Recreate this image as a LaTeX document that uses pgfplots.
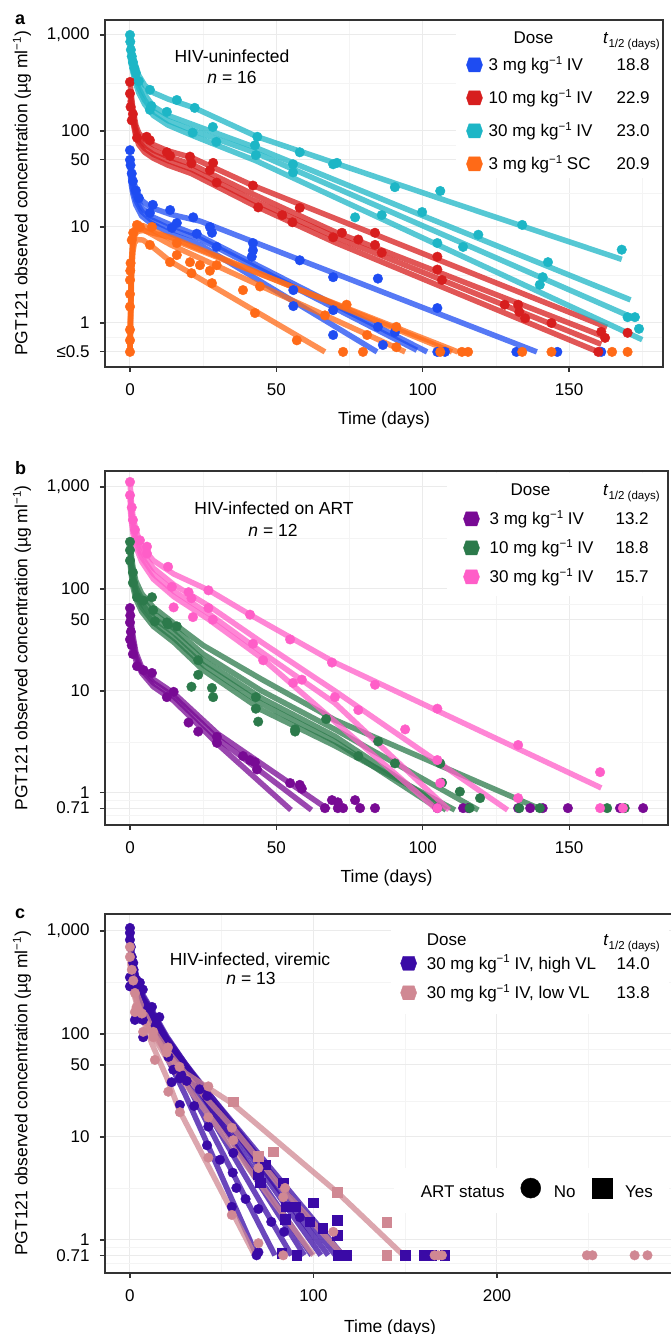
\documentclass[border=0pt]{standalone}
\usepackage{fontspec}
\setmainfont{Liberation Sans}
\usepackage{pgfplots}
\pgfplotsset{compat=1.18}

\definecolor{aBlue}{HTML}{1E4CF2}
\definecolor{aRed}{HTML}{D71E1E}
\definecolor{aCyan}{HTML}{1DB6C6}
\definecolor{aOrange}{HTML}{FF6A17}
\definecolor{bPurple}{HTML}{780A94}
\definecolor{bGreen}{HTML}{2C7A4B}
\definecolor{bPink}{HTML}{FF5EC8}
\definecolor{cHigh}{HTML}{3A0AA6}
\definecolor{cLow}{HTML}{D08893}
\definecolor{axgray}{HTML}{333333}
\definecolor{gridmaj}{HTML}{EBEBEB}
\definecolor{gridmin}{HTML}{F4F4F4}

\newcommand{\fs}{\fontsize{17}{20}\selectfont}
\newcommand{\fl}{\fontsize{17.5}{20}\selectfont}
\newcommand{\sinv}{\raisebox{6.5pt}{\fontsize{11.5}{12}\selectfont −1}}
\newcommand{\thalf}{\textit{t}\raisebox{-4pt}{\fontsize{11.5}{12}\selectfont 1/2 (days)}}
\newcommand{\ylab}{PGT121 observed concentration (µg ml\sinv)}

\newcommand{\subj}[2]{\addplot[forget plot, no markers, draw=#1, line width=5.5pt, opacity=0.75, line join=round] coordinates {#2};}
\newcommand{\obs}[2]{\addplot[forget plot, only marks, mark=*, mark size=4.8pt, color=#1, mark options={draw=none, fill=#1}] coordinates {#2};}
\newcommand{\obsq}[2]{\addplot[forget plot, only marks, mark=square*, mark size=4.8pt, color=#1, mark options={draw=none, fill=#1}] coordinates {#2};}
\newcommand{\hexleg}[1]{\addlegendimage{legend image code/.code={\fill[#1] (0pt,1.5pt) -- (2.5pt,8.5pt) -- (13.5pt,8.5pt) -- (16pt,1.5pt) -- (13.5pt,-5.5pt) -- (2.5pt,-5.5pt) -- cycle;}}}

\begin{document}
\begin{tikzpicture}
\path[use as bounding box] (0pt,0pt) rectangle (670pt,1334pt);

% ---------------- panel a ----------------
\begin{axis}[
  scale only axis, ymode=log,
  axis line style={draw=axgray, line width=1.1pt},
  tick align=outside, major tick length=5pt, minor tick length=0pt,
  xtick pos=left, ytick pos=left,
  tick style={draw=axgray, line width=1.1pt},
  grid=both,
  major grid style={draw=gridmaj, line width=1pt},
  minor grid style={draw=gridmin, line width=0.7pt},
  xticklabel style={font=\fs, yshift=-8pt}, yticklabel style={font=\fs, xshift=-7pt},
  xlabel={Time (days)}, ylabel={\ylab},
  xlabel style={font=\fl, at={(axis description cs:0.5,-0.152)}, anchor=center},
  ylabel style={font=\fl, at={(axis description cs:-0.1487,0.5)}, anchor=center},
  at={(105pt,1314pt)}, anchor=north west, width=558pt, height=347pt,
  xmin=-8.54, xmax=182.1, ymin=0.348, ymax=1432,
  xtick={0,50,100,150}, xticklabels={0,50,100,150}, minor xtick={25,75,125,175},
  ytick={0.5,1,10,50,100,1000}, yticklabels={≤0.5,1,10,50,100,{1,000}},
  minor ytick={0.7071,3.1623,22.36,70.71,316.2},
  legend cell align=left,
  legend style={draw=none, fill=white, font=\fs, anchor=north east,
     at={(axis description cs:0.998,0.998)}, inner xsep=10.5pt, inner ysep=2.5pt, row sep=13pt,
     nodes={inner sep=1.5pt, text height=13pt, text depth=4pt},
     /tikz/every odd column/.style={column sep=4.5pt}},
]
% blue 3 mg/kg IV
\subj{aBlue}{(0,55)(0.5,40)(1,32)(2,25)(4,19)(7,16)(14,13.5)(24,11.5)(139,0.5)}
\subj{aBlue}{(0,48)(0.5,34)(1,27)(2,21)(4,16)(7,13)(14,10.5)(24,8)(101.5,0.5)}
\subj{aBlue}{(0,42)(0.5,30)(1,24)(2,19)(4,14.5)(7,12)(14,9.5)(24,7.5)(98,0.52)}
\subj{aBlue}{(0,38)(0.5,27)(1,22)(2,17)(4,13)(7,11)(14,8.5)(24,6.5)(84.4,0.5)}
% red 10 mg/kg IV
\subj{aRed}{(0,320)(0.5,230)(1,170)(2,115)(3,95)(5,82)(8,72)(13,62)(21,53)(42,27)(70,12.3)(163,0.9)}
\subj{aRed}{(0,270)(0.5,200)(1,150)(2,105)(3,85)(5,72)(8,63)(13,54)(21,45)(42,22)(70,8.9)(162,0.72)}
\subj{aRed}{(0,240)(0.5,175)(1,135)(2,95)(3,78)(5,66)(8,57)(13,49)(21,40)(42,19)(70,7.9)(161,0.6)}
\subj{aRed}{(0,210)(0.5,160)(1,125)(2,88)(3,72)(5,60)(8,52)(13,44)(21,36)(42,17)(70,6.9)(160,0.5)}
% cyan 30 mg/kg IV
\subj{aCyan}{(0,1000)(0.3,800)(1,620)(2,470)(3,380)(5,300)(8,250)(13,215)(22,174)(43.5,87)(107.6,19)(168,4.6)}
\subj{aCyan}{(0,850)(0.3,700)(1,540)(2,400)(3,320)(5,240)(8,180)(13,145)(22,115)(43,67)(100,13.1)(171,1.74)}
\subj{aCyan}{(0,720)(0.3,600)(1,470)(2,350)(3,280)(5,210)(8,160)(13,128)(22,100)(43,59)(100,10.3)(170,1.2)}
\subj{aCyan}{(0,620)(0.3,520)(1,410)(2,310)(3,250)(5,190)(8,145)(13,115)(22,88)(43,49)(100,7.7)(175,0.67)}
% orange 3 mg/kg SC
\subj{aOrange}{(0,0.5)(0.3,1.5)(0.6,3.5)(1,5.5)(1.5,6.8)(2.5,7.4)(4.5,7.3)(8,6.1)(13.7,4.4)(66.6,0.5)}
\subj{aOrange}{(0,0.5)(0.3,2)(0.6,4.5)(1,7)(1.5,8.6)(2.5,9.5)(4.5,9.4)(8,8.2)(14,6.5)(94,0.5)}
\subj{aOrange}{(0,0.5)(0.3,2.2)(0.6,5)(1,7.8)(1.5,9.5)(2.5,10.5)(4.5,10.3)(8,9.2)(14,7.5)(112,0.5)}
\subj{aOrange}{(0,0.5)(0.3,1.8)(0.6,4.2)(1,6.5)(1.5,8)(2.5,9)(4.5,9.2)(8,8.6)(14,7.8)(110,0.5)}
% observations
\obs{aBlue}{(0,63)(0,50)(0.2,44)(0.6,36)(1,30)(2,24)(3,20)(6.8,14)(7.8,17)(13.7,15)(14.3,9.8)(16,11)(21.6,12.6)(22.8,8.5)(27.3,10)(28,8.7)(29.6,6.2)(42,6.8)(42,5.7)(41.6,4.9)(58,4.5)(55.8,2.2)(55.8,1.5)(69.4,3.0)(69.4,1.36)(69.4,0.75)(84.7,2.9)(84.7,0.91)(90.5,0.8)(86.4,0.59)(105,1.43)(105,0.5)(107.6,0.5)(132,0.5)(146,0.5)(161,0.5)}
\obs{aRed}{(0,324)(0,245)(0.2,178)(0.6,129)(1,150)(2.4,85)(5.7,87)(6.8,80)(12.6,60)(13.7,55)(20.5,54)(21,46)(28.4,46.5)(27.3,39)(29.6,29)(42,27)(43.8,16)(52,13.3)(55.5,11.2)(58,15.8)(69.4,7.8)(72.4,8.7)(78,7.4)(83.7,8.7)(83.7,6.5)(86,5.4)(105,4.9)(105,3.6)(106.6,2.8)(128,1.55)(132.6,1.55)(133,1.3)(135,1.12)(144,1.0)(161,0.81)(162.3,0.7)(170,0.79)(160,0.5)}
\obs{aCyan}{(0,1000)(0.1,850)(0.3,700)(0.6,600)(1,520)(1.5,450)(2,400)(3,330)(6.8,268)(6.8,166)(7.3,182)(12.6,158)(16,210)(22.1,174)(21.4,96)(28.3,110)(29.5,77)(43.5,87)(42.7,71)(43,56)(58,60)(55.7,45)(55.7,37)(69.4,45)(70.7,46.5)(76.9,12.6)(86,13.3)(90.5,26)(99.8,14.3)(106,23.7)(105,6.8)(113.8,6.2)(119,8.3)(134,10.5)(142.8,4.3)(141,3.0)(140,2.5)(168,5.8)(170,1.15)(172.5,1.15)(173.9,0.87)}
\obs{aOrange}{(0,0.5)(0,0.66)(0,0.85)(0,1.48)(0,2)(0,2.8)(0.1,3.5)(0.2,4.2)(0.6,7.3)(1.1,8.7)(2.4,10.5)(3.4,10)(7.5,10)(6.8,6.5)(13.7,4.3)(16,5.1)(16,6.8)(20.5,4.3)(21,3.3)(23.9,4)(27.3,3.5)(29.6,4)(28,2.6)(38.6,2.2)(44.4,2.4)(42.7,1.27)(57,0.66)(66.6,1.2)(74,1.55)(81,0.75)(91,0.91)(91,0.56)(72.8,0.5)(79.6,0.5)(106,0.5)(113.4,0.5)(115.5,0.5)(134,0.5)(144,0.5)(164.7,0.5)(170,0.5)}
% legend
\addlegendimage{empty legend}\addlegendentry{\raisebox{-6pt}{\makebox[161pt][l]{\hspace{25pt}Dose\hfill\thalf\kern-10pt}}}
\hexleg{aBlue}\addlegendentry{\makebox[161pt][l]{3 mg kg\sinv{} IV\hfill 18.8}}
\hexleg{aRed}\addlegendentry{\makebox[161pt][l]{10 mg kg\sinv{} IV\hfill 22.9}}
\hexleg{aCyan}\addlegendentry{\makebox[161pt][l]{30 mg kg\sinv{} IV\hfill 23.0}}
\hexleg{aOrange}\addlegendentry{\makebox[161pt][l]{3 mg kg\sinv{} SC\hfill 20.9}}
\end{axis}

% ---------------- panel b ----------------
\begin{axis}[
  scale only axis, ymode=log,
  axis line style={draw=axgray, line width=1.1pt},
  tick align=outside, major tick length=5pt, minor tick length=0pt,
  xtick pos=left, ytick pos=left,
  tick style={draw=axgray, line width=1.1pt},
  grid=both,
  major grid style={draw=gridmaj, line width=1pt},
  minor grid style={draw=gridmin, line width=0.7pt},
  xticklabel style={font=\fs, yshift=-8pt}, yticklabel style={font=\fs, xshift=-7pt},
  xlabel={Time (days)}, ylabel={\ylab},
  xlabel style={font=\fl, at={(axis description cs:0.5,-0.151)}, anchor=center},
  ylabel style={font=\fl, at={(axis description cs:-0.1474,0.5)}, anchor=center},
  at={(105pt,863pt)}, anchor=north west, width=563pt, height=354pt,
  xmin=-8.54, xmax=183.8, ymin=0.485, ymax=1435,
  xtick={0,50,100,150}, xticklabels={0,50,100,150}, minor xtick={25,75,125,175},
  ytick={0.71,1,10,50,100,1000}, yticklabels={0.71,1,10,50,100,{1,000}},
  minor ytick={0.597,0.843,3.1623,22.36,70.71,316.2},
  legend cell align=left,
  legend style={draw=none, fill=white, font=\fs, anchor=north east,
     at={(axis description cs:0.998,0.994)}, inner xsep=16.5pt, inner ysep=8pt, row sep=9pt,
     nodes={inner sep=1.5pt, text height=13pt, text depth=4pt},
     /tikz/every odd column/.style={column sep=8.5pt}},
]
\subj{bPurple}{(0,65)(0.5,45)(1,35)(2,24)(4,17)(8,13)(15,9.5)(30,3.8)(68,0.68)}
\subj{bPurple}{(0,55)(0.5,40)(1,31)(2,22)(4,16)(8,12)(15,8.8)(30,3.4)(62,0.68)}
\subj{bPurple}{(0,45)(0.5,34)(1,27)(2,20)(4,15)(8,11)(15,8)(30,3)(55,0.68)}
\subj{bGreen}{(0,290)(0.5,210)(1,165)(2,120)(4,90)(8,66)(15,46)(25,28)(45,13)(70,5.2)(141,0.68)}
\subj{bGreen}{(0,255)(0.5,185)(1,145)(2,105)(4,80)(8,58)(15,41)(25,23)(45,10)(70,4.2)(119,0.68)}
\subj{bGreen}{(0,225)(0.5,165)(1,130)(2,95)(4,72)(8,52)(15,37)(25,20)(45,8.5)(70,3.6)(108,0.68)}
\subj{bGreen}{(0,200)(0.5,150)(1,118)(2,88)(4,66)(8,47)(15,33)(25,18)(45,7.5)(70,3.2)(106,0.68)}
\subj{bGreen}{(0,180)(0.5,135)(1,105)(2,80)(4,60)(8,43)(15,30)(25,16)(45,6.5)(70,2.9)(111,0.68)}
\subj{bPink}{(0,1100)(0.5,700)(1,520)(2,380)(4,260)(8,190)(15,140)(27,97)(41,56)(70,19)(161,1.12)}
\subj{bPink}{(0,900)(0.5,600)(1,450)(2,330)(4,230)(8,160)(15,110)(27,68)(45,30)(70,10)(129,0.68)}
\subj{bPink}{(0,760)(0.5,520)(1,400)(2,290)(4,205)(8,140)(15,95)(27,57)(45,24)(70,7.6)(109,0.68)}
\subj{bPink}{(0,650)(0.5,460)(1,350)(2,260)(4,185)(8,125)(15,84)(27,50)(45,21)(70,5)(105,0.68)}
\obs{bPurple}{(0,65)(0,47)(0,32)(0.1,55)(0.3,38)(0.6,28)(1,23)(2.4,17.5)(4.6,16)(7.5,15)(12.6,8.7)(14.9,9.8)(20,4.9)(23.3,4)(29.7,3.55)(29.7,3.1)(38.6,2.3)(41,2.1)(42.7,2)(43.4,1.7)(54.7,1.25)(58,1.2)(58.7,1.1)(69,0.85)(71,0.81)(76.9,0.85)(66.6,0.71)(71,0.71)(72.8,0.71)(78.6,0.71)(83.7,0.71)(105,0.71)(113.8,0.71)(115.5,0.71)(132.6,0.71)(136.7,0.71)(141,0.71)(149.6,0.71)(167.4,0.71)(175.3,0.71)}
\obs{bGreen}{(0,290)(0,240)(0,190)(1,145)(1,115)(2.4,83)(4.6,77)(7.5,83)(7.9,62)(8.5,48)(12.6,47)(13,45)(16,43)(23.3,20)(23.3,14.4)(21,11)(28,10.7)(28.4,8.7)(43,8.7)(43,6.7)(43.8,5)(56.4,4.2)(56.4,4)(67,5.3)(78,2.3)(84.8,3.2)(90.5,1.95)(106,1.95)(106.6,1.26)(112.7,1.03)(119.6,0.89)(133,0.71)(163,0.71)(169,0.71)(116,0.71)(140,0.71)}
\obs{bPink}{(0,1120)(0,830)(0.6,630)(1,475)(1.7,380)(3.4,300)(5.8,260)(5.8,222)(13,165)(14.3,105)(14.9,66)(20,93)(21,81)(21.5,53)(26.8,97)(26.8,65)(28.3,50)(41,56)(42,29)(45.5,20)(54.7,32)(55.7,12)(58.7,12.9)(69,19)(70,8.7)(78,6.5)(83.7,11.5)(94,4.2)(105,6.7)(105,2.1)(106,1.25)(132.6,2.95)(132.6,0.89)(160.6,1.6)(160.6,0.71)(168.4,0.71)(105,0.71)}
\addlegendimage{empty legend}\addlegendentry{\makebox[159pt][l]{\hspace{21pt}Dose\hfill\thalf\kern-11pt}}
\hexleg{bPurple}\addlegendentry{\makebox[159pt][l]{3 mg kg\sinv{} IV\hfill 13.2}}
\hexleg{bGreen}\addlegendentry{\makebox[159pt][l]{10 mg kg\sinv{} IV\hfill 18.8}}
\hexleg{bPink}\addlegendentry{\makebox[159pt][l]{30 mg kg\sinv{} IV\hfill 15.7}}
\end{axis}

% ---------------- panel c ----------------
\begin{axis}[
  scale only axis, ymode=log,
  axis line style={draw=axgray, line width=1.1pt},
  tick align=outside, major tick length=5pt, minor tick length=0pt,
  xtick pos=left, ytick pos=left,
  tick style={draw=axgray, line width=1.1pt},
  grid=both,
  major grid style={draw=gridmaj, line width=1pt},
  minor grid style={draw=gridmin, line width=0.7pt},
  xticklabel style={font=\fs, yshift=-8pt}, yticklabel style={font=\fs, xshift=-7pt},
  xlabel={Time (days)}, ylabel={\ylab},
  xlabel style={font=\fl, at={(axis description cs:0.5,-0.153)}, anchor=center},
  ylabel style={font=\fl, at={(axis description cs:-0.1456,0.5)}, anchor=center},
  at={(105pt,420pt)}, anchor=north west, width=570pt, height=359pt,
  xmin=-13.6, xmax=297.0, ymin=0.478, ymax=1462,
  xtick={0,100,200}, xticklabels={0,100,200}, minor xtick={50,150,250},
  ytick={0.71,1,10,50,100,1000}, yticklabels={0.71,1,10,50,100,{1,000}},
  minor ytick={0.597,0.843,3.1623,22.36,70.71,316.2},
  legend cell align=left,
  legend style={draw=none, fill=white, font=\fs, anchor=north east,
     at={(axis description cs:0.9895,0.997)}, inner xsep=9.5pt, inner ysep=10pt, row sep=9.5pt,
     nodes={inner sep=1.5pt, text height=13pt, text depth=4pt},
     /tikz/every odd column/.style={column sep=8.5pt}},
]
\subj{cHigh}{(0,900)(0.5,650)(1,520)(2,400)(4,280)(7,200)(12,130)(20,60)(30,26)(42,8.7)(69,0.71)}
\subj{cHigh}{(0,1000)(0.5,720)(1,580)(2,440)(4,310)(7,220)(12,150)(20,75)(30,36)(79,0.71)}
\subj{cHigh}{(0,950)(0.5,700)(1,560)(2,430)(4,300)(7,210)(12,150)(20,80)(30,42)(88,0.71)}
\subj{cHigh}{(0,1050)(0.5,760)(1,600)(2,460)(4,330)(7,230)(12,165)(20,90)(30,48)(95,0.71)}
\subj{cHigh}{(0,800)(0.5,600)(1,480)(2,380)(4,270)(7,190)(12,140)(20,80)(30,45)(99,0.71)}
\subj{cHigh}{(0,1100)(0.5,800)(1,620)(2,480)(4,340)(7,240)(12,170)(20,95)(30,52)(104,0.71)}
\subj{cHigh}{(0,900)(0.5,660)(1,530)(2,410)(4,290)(7,210)(12,150)(20,88)(30,50)(108,0.71)}
\subj{cHigh}{(0,1000)(0.5,720)(1,570)(2,440)(4,310)(7,220)(12,160)(20,92)(30,52)(112,0.71)}
\subj{cHigh}{(0,950)(0.5,700)(1,550)(2,420)(4,300)(7,215)(12,155)(20,90)(30,50)(116,0.71)}
\subj{cLow}{(0,600)(0.5,450)(1,360)(2,280)(4,200)(7,140)(12,80)(20,38)(27,18)(68,0.71)}
\subj{cLow}{(0,700)(0.5,520)(1,420)(2,330)(4,240)(7,175)(12,115)(20,70)(30,42)(56,21)(113,2.9)(149,0.71)}
\subj{cLow}{(0,560)(0.5,420)(1,340)(2,270)(4,200)(7,150)(12,105)(20,65)(30,40)(56,12.3)(84,3)(116,0.71)}
\subj{cLow}{(0,500)(0.5,380)(1,310)(2,250)(4,185)(7,140)(12,100)(20,58)(30,33)(100,0.71)}
\obs{cHigh}{(0,1070)(0,960)(0,820)(0,355)(0,290)(0.5,700)(1,560)(1.8,490)(2,420)(3.6,333)(4,300)(5.4,315)(7,270)(2.7,137)(7,137)(10,180)(12,183)(14,120)(14.5,137)(16,146)(7.2,93)(21,60)(27.2,37)(22.7,34)(23.6,45)(28,40)(30.9,35)(35,20)(38,29)(42,25)(27.2,20.5)(42,8.3)(42.7,12.6)(49,6)(56,4.5)(58,3.2)(55.5,2.1)(56.3,7)(63,2.5)(70,2.0)(77,1.5)(84,1.2)(70,0.76)(69,0.71)(92.6,1.66)}
\obsq{cHigh}{(70,4.3)(71,3.6)(73.6,5.4)(82.6,0.74)(90.8,0.71)(83.5,3.6)(84.5,1.6)(85.3,2.1)(90,2.1)(98,1.5)(105,1.3)(100,2.3)(113,1.55)(113,1.12)(113.5,0.71)(116,0.71)(118,0.71)(150,0.71)(160,0.71)(164,0.71)(171.6,0.71)}
\obs{cLow}{(0,700)(0,560)(1,420)(1.8,330)(2.7,250)(3.6,182)(2.7,163)(6.5,158)(12.7,105)(12.7,93)(7.2,105)(20,66)(20.7,74)(27,48)(20.9,27.5)(13.6,56)(42.7,31)(27.2,17.4)(42.7,15.5)(42.7,6.3)(55.5,12.3)(56.3,9.3)(55.5,1.75)(70,5)(70,0.93)(84.5,3.2)(83.5,2.6)(83.5,0.71)(110.8,1.2)(166,0.71)(168,0.71)(170,0.71)(249,0.71)(252,0.71)(275,0.71)(282,0.71)}
\obsq{cLow}{(56.3,22)(70,6.5)(78,7.2)(113,2.9)(140,1.48)(140,0.71)}
\addlegendimage{empty legend}\addlegendentry{\raisebox{-5.5pt}{\makebox[231pt][l]{Dose\hfill\thalf\kern-2pt}}}
\hexleg{cHigh}\addlegendentry{\makebox[231pt][l]{\makebox[223pt][l]{30 mg kg\sinv{} IV, high VL\hfill 14.0}}}
\hexleg{cLow}\addlegendentry{\makebox[231pt][l]{\makebox[223pt][l]{30 mg kg\sinv{} IV, low VL\hfill 13.8}}}
\end{axis}

% ART status legend (second legend of panel c)
\begin{axis}[hide axis, scale only axis,
  at={(105pt,420pt)}, anchor=north west, width=570pt, height=359pt,
  xmin=0, xmax=1, ymin=0, ymax=1,
  legend columns=3,
  legend style={at={(axis description cs:0.9895,0.2298)}, anchor=east, draw=none, fill=white, font=\fs,
    inner xsep=14pt, inner ysep=10pt,
    nodes={inner sep=2pt, text height=13pt, text depth=4pt},
    /tikz/every odd column/.style={column sep=11pt},
    /tikz/every even column/.style={column sep=14pt}},
]
\addplot[draw=none, no marks, forget plot] coordinates {(0.5,0.5)};
\addlegendimage{empty legend}\addlegendentry{ART status}
\addlegendimage{legend image code/.code={\fill[black] (10pt,4.5pt) circle (10pt);}}\addlegendentry{No}
\addlegendimage{legend image code/.code={\fill[black] (0pt,-5.5pt) rectangle (20pt,14.5pt);}}\addlegendentry{Yes}
\end{axis}

% panel letters and annotations
\node[font=\fontsize{18}{20}\selectfont\bfseries, anchor=base west, inner sep=0pt] at (15pt,1309pt) {a};
\node[font=\fontsize{18}{20}\selectfont\bfseries, anchor=base west, inner sep=0pt] at (15pt,859pt) {b};
\node[font=\fontsize{18}{20}\selectfont\bfseries, anchor=base west, inner sep=0pt] at (15pt,415pt) {c};
\node[font=\fl, anchor=base, inner sep=0pt] at (232pt,1271pt) {HIV-uninfected};
\node[font=\fl, anchor=base, inner sep=0pt] at (232pt,1250pt) {\textit{n} = 16};
\node[font=\fl, anchor=base, inner sep=0pt] at (274pt,819pt) {HIV-infected on ART};
\node[font=\fl, anchor=base, inner sep=0pt] at (273pt,797pt) {\textit{n} = 12};
\node[font=\fl, anchor=base, inner sep=0pt] at (250pt,368pt) {HIV-infected, viremic};
\node[font=\fl, anchor=base, inner sep=0pt] at (251pt,349pt) {\textit{n} = 13};
\end{tikzpicture}
\end{document}
